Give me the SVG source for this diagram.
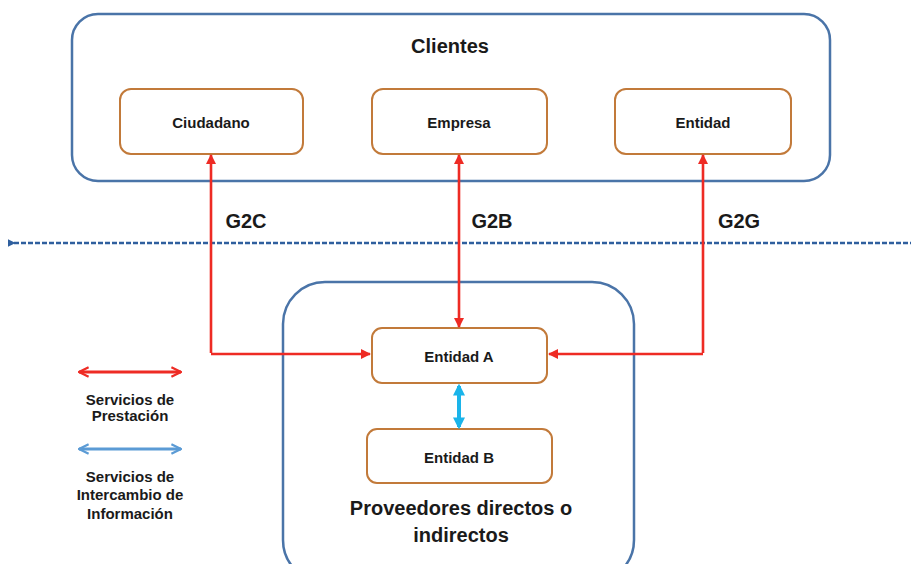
<svg xmlns="http://www.w3.org/2000/svg" width="911" height="564" viewBox="0 0 911 564">
<defs>
<style>
.container{fill:#fff;stroke:#4a74a8;stroke-width:2.5}
.node{fill:#fff;stroke:#c27a3a;stroke-width:2}
.t{font-family:"Liberation Sans",Arial,sans-serif;font-weight:bold;fill:#1a1a1a;text-anchor:middle}
.nt{font-size:15px}
.big{font-size:20px}
.red{stroke:#ee2b24;stroke-width:2.6;fill:none}
.leg{font-size:15px}
.corner{fill:#a9bcd6}
</style>
<marker id="ar" viewBox="0 0 10 10" refX="9" refY="5" markerWidth="11" markerHeight="10" orient="auto-start-reverse" markerUnits="userSpaceOnUse">
<path d="M0,0 L10,5 L0,10 z" fill="#ee2b24"/>
</marker>
<marker id="arOpen" viewBox="0 0 10 10" refX="9" refY="5" markerWidth="12" markerHeight="14" orient="auto-start-reverse" markerUnits="userSpaceOnUse">
<path d="M1,1 L9,5 L1,9" fill="none" stroke="#ee2b24" stroke-width="1.8"/>
</marker>
<marker id="arBlueOpen" viewBox="0 0 10 10" refX="9" refY="5" markerWidth="12" markerHeight="14" orient="auto-start-reverse" markerUnits="userSpaceOnUse">
<path d="M1,1 L9,5 L1,9" fill="none" stroke="#5b9bd5" stroke-width="1.8"/>
</marker>
<marker id="arCyan" viewBox="0 0 10 10" refX="8" refY="5" markerWidth="12" markerHeight="13" orient="auto-start-reverse" markerUnits="userSpaceOnUse">
<path d="M0,0 L10,5 L0,10 z" fill="#1ab4ea"/>
</marker>
<marker id="arDash" viewBox="0 0 10 10" refX="2" refY="5" markerWidth="8" markerHeight="9" orient="auto-start-reverse" markerUnits="userSpaceOnUse">
<path d="M10,0 L0,5 L10,10 z" fill="#2f5f9e"/>
</marker>
</defs>
<rect width="911" height="564" fill="#fff"/>

<g id="clientes">
<rect class="container" x="72" y="14" width="758" height="167" rx="26"/>
<text class="t big" x="450" y="53">Clientes</text>
</g>

<g id="proveedores">
<rect class="container" x="283" y="282" width="351" height="300" rx="42"/>
<text class="t big" x="461" y="515">Proveedores directos o</text>
<text class="t big" x="461" y="542">indirectos</text>
</g>

<g id="ciudadano">
<rect class="node" x="120" y="89" width="183" height="65" rx="11"/>
<text class="t nt" x="211" y="128">Ciudadano</text>
</g>
<g id="empresa">
<rect class="node" x="372" y="89" width="175" height="65" rx="11"/>
<text class="t nt" x="459" y="128">Empresa</text>
</g>
<g id="entidad">
<rect class="node" x="615" y="89" width="176" height="65" rx="11"/>
<text class="t nt" x="703" y="128">Entidad</text>
</g>
<g id="entidadA">
<rect class="node" x="372" y="328" width="175" height="55" rx="10"/>
<text class="t nt" x="459" y="362">Entidad A</text>
</g>
<g id="entidadB">
<rect class="node" x="367" y="429" width="185" height="54" rx="10"/>
<text class="t nt" x="459" y="463">Entidad B</text>
</g>

<g id="connectors">
<line x1="14" y1="243" x2="911" y2="243" stroke="#2f5f9e" stroke-width="2.5" stroke-dasharray="5,2" marker-start="url(#arDash)"/>
<path class="red" d="M211,353 L211,155" marker-end="url(#ar)"/>
<path class="red" d="M211,354 L370,354" marker-end="url(#ar)"/>
<path class="red" d="M459,155 L459,327" marker-start="url(#ar)" marker-end="url(#ar)"/>
<path class="red" d="M703,353 L703,155" marker-end="url(#ar)"/>
<path class="red" d="M703,354 L549,354" marker-end="url(#ar)"/>
<line x1="459" y1="386" x2="459" y2="427" stroke="#1ab4ea" stroke-width="4" marker-start="url(#arCyan)" marker-end="url(#arCyan)"/>
<text class="t big" x="246" y="228">G2C</text>
<text class="t big" x="492" y="228">G2B</text>
<text class="t big" x="739" y="228">G2G</text>
</g>

<g id="legend">
<line x1="79" y1="372" x2="181" y2="372" stroke="#ee2b24" stroke-width="2.8" marker-start="url(#arOpen)" marker-end="url(#arOpen)"/>
<text class="t leg" x="130" y="405">Servicios de</text>
<text class="t leg" x="130" y="421">Prestación</text>
<line x1="79" y1="449" x2="181" y2="449" stroke="#5b9bd5" stroke-width="2.8" marker-start="url(#arBlueOpen)" marker-end="url(#arBlueOpen)"/>
<text class="t leg" x="130" y="482">Servicios de</text>
<text class="t leg" x="130" y="500">Intercambio de</text>
<text class="t leg" x="130" y="519">Información</text>
</g>
</svg>
